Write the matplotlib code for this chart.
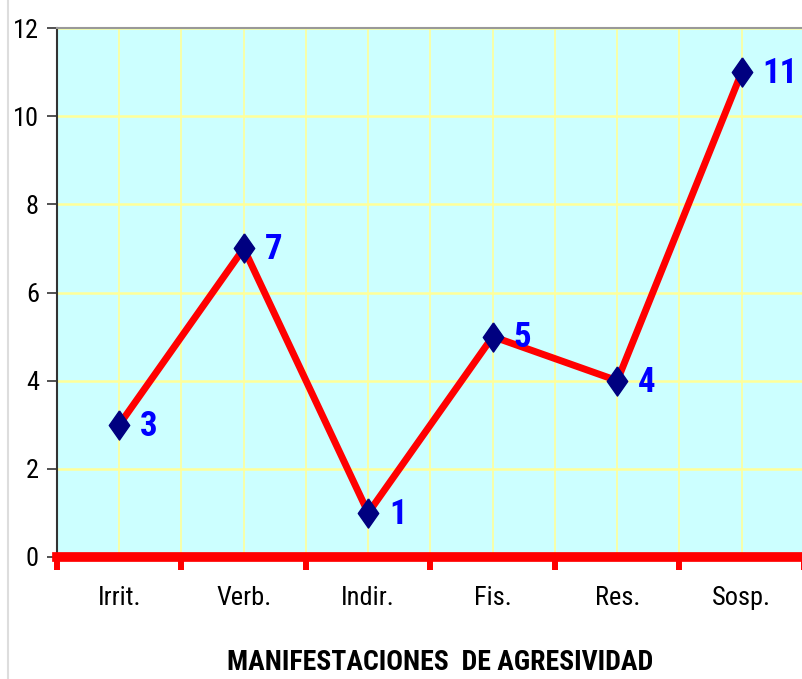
import matplotlib
matplotlib.use("Agg")
import matplotlib.pyplot as plt
from matplotlib.lines import Line2D
from matplotlib.ticker import MultipleLocator, FixedLocator

categories = ["Irrit.", "Verb.", "Indir.", "Fis.", "Res.", "Sosp."]
values = [3, 7, 1, 5, 4, 11]
xlabel = "MANIFESTACIONES  DE AGRESIVIDAD"

plt.rcParams['font.family'] = ["Roboto Condensed", "Liberation Sans", "DejaVu Sans"]

fig = plt.figure(figsize=(8.03, 6.79), dpi=100)
ax = fig.add_axes([57/803, 122/679, 747/803, 529/679])
ax.set_facecolor("#CCFFFF")

x = list(range(len(categories)))
ax.set_xlim(-0.5, len(categories) - 0.5)
ax.set_ylim(0, 12)

# gridlines
for xv in [i - 0.5 for i in range(len(categories) + 1)] + x:
    ax.axvline(xv, color="#FFFF99", lw=1.2, zorder=1)
for yv in range(2, 13, 2):
    ax.axhline(yv, color="#FFFF99", lw=1.8, zorder=1)

diamond = [(0, 1), (0.7, 0), (0, -1), (-0.7, 0), (0, 1)]
ax.plot(x, values, color="#FF0000", lw=5, zorder=3, solid_capstyle="round")
ax.plot(x, values, linestyle="none", marker=diamond, markersize=21,
        color="#000080", zorder=4)
for xi, v in zip(x, values):
    ax.annotate(str(v), (xi, v), xytext=(15, -1), textcoords="offset points",
                ha="left", va="center", color="#0000FF", fontsize=25,
                fontweight="bold", zorder=5)

# axes styling
ax.spines["top"].set_color("#999999")
ax.spines["top"].set_linewidth(1.5)
ax.spines["right"].set_visible(False)
ax.spines["left"].set_color("#333333")
ax.spines["left"].set_linewidth(1.5)
ax.spines["bottom"].set_color("#FF0000")
ax.spines["bottom"].set_linewidth(7)
ax.spines["bottom"].set_zorder(6)

ax.yaxis.set_major_locator(MultipleLocator(2))
ax.tick_params(axis="y", length=7, width=1.2, color="#333333",
               labelsize=19, pad=6)
ax.set_xticks(x)
ax.set_xticklabels(categories)
ax.tick_params(axis="x", which="major", length=0, labelsize=19, pad=21)
ax.xaxis.set_minor_locator(FixedLocator([i - 0.5 for i in range(len(categories) + 1)]))
ax.tick_params(axis="x", which="minor", length=9, width=4.3, color="#FF0000")

fig.text(440/803, 1 - 662/679, xlabel, ha="center", va="center",
         fontsize=20, fontweight="bold", color="black")

fig.add_artist(Line2D([8/803, 8/803], [0, 1], color="#DDDDDD", lw=1.5,
                      transform=fig.transFigure))

fig.savefig("out.png", dpi=100)
